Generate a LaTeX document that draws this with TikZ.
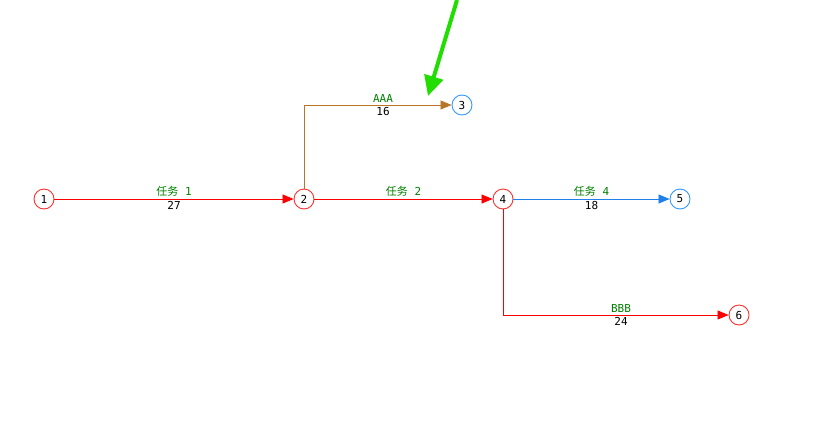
\documentclass[tikz,border=0pt]{standalone}
\usepackage{fontspec}
\setmainfont{DejaVu Sans Mono}
\newfontfamily\cjk{Noto Sans CJK SC}
\usetikzlibrary{arrows.meta,calc}
\definecolor{evred}{HTML}{FF3030}
\definecolor{evblue}{HTML}{3399FF}
\definecolor{linered}{HTML}{FF0000}
\definecolor{lineblue}{HTML}{1E80E8}
\definecolor{linebrown}{HTML}{B87428}
\definecolor{taskgreen}{HTML}{008000}
\definecolor{markgreen}{HTML}{22DD00}

\begin{document}
\begin{tikzpicture}[
x=1pt,
y=-1pt,
event/.style={
  draw,
  circle,
  fill=white,
  minimum size=20pt,
  inner sep=0pt,
  line width=0.9pt,
  font=\fontsize{11}{13}\selectfont
  },
crit/.style={event, draw=evred},
free/.style={event, draw=evblue},
task/.style={
  line width=0.8pt,
  -{Triangle[length=11pt,width=9pt]}
  },
taskname/.style={
  text=taskgreen,
  anchor=south,
  inner sep=2.5pt,
  font=\fontsize{11}{13}\selectfont
  },
taskdur/.style={
  anchor=north,
  inner sep=2.5pt,
  font=\fontsize{11}{13}\selectfont
  }
]
\useasboundingbox (0,0) rectangle (826,434);
% events
\node[crit] (e1) at (44,199) {1};
\node[crit] (e2) at (304,199) {2};
\node[free] (e3) at (462,105) {3};
\node[crit] (e4) at (503,199) {4};
\node[free] (e5) at (680,199) {5};
\node[crit] (e6) at (739,315) {6};
% tasks
\draw[task, linered] (e1) -- (e2);
\draw[task, linebrown] (e2) |- (e3);
\draw[task, linered] (e2) -- (e4);
\draw[task, lineblue] (e4) -- (e5);
\draw[task, linered] (e4) |- (e6);
% labels
\node[taskname] (n12) at ($(e1)!0.5!(e2)$) {{\cjk 任务} 1};
\node[taskdur] (d12) at ($(e1)!0.5!(e2)$) {27};
\node[taskname] (n23) at ($(e2 |- e3)!0.5!(e3)$) {AAA};
\node[taskdur] (d23) at ($(e2 |- e3)!0.5!(e3)$) {16};
\node[taskname] (n24) at ($(e2)!0.5!(e4)$) {{\cjk 任务} 2};
\node[taskname] (n45) at ($(e4)!0.5!(e5)$) {{\cjk 任务} 4};
\node[taskdur] (d45) at ($(e4)!0.5!(e5)$) {18};
\node[taskname] (n46) at ($(e4 |- e6)!0.5!(e6)$) {BBB};
\node[taskdur] (d46) at ($(e4 |- e6)!0.5!(e6)$) {24};
% marker
\coordinate (m0) at (457,0);
\coordinate (m1) at (428,96);
\draw[markgreen, line width=4pt, -{Triangle[length=20pt,width=19pt]}] (m0) -- (m1);
\end{tikzpicture}
\end{document}
